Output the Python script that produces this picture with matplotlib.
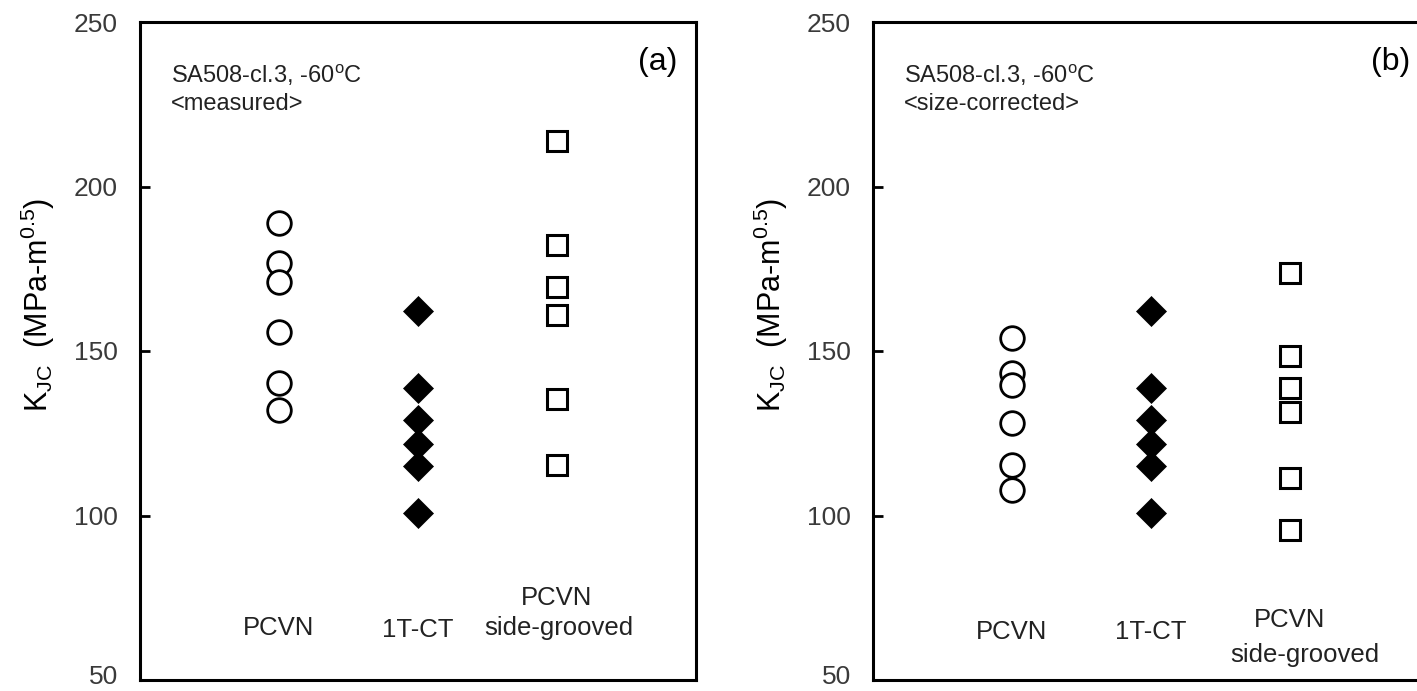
import numpy as np
import matplotlib
matplotlib.use("Agg")
import matplotlib.pyplot as plt
import matplotlib.transforms as mtransforms

plt.rcParams['font.family'] = ['Liberation Sans', 'DejaVu Sans']
plt.rcParams['mathtext.fontset'] = 'custom'
plt.rcParams['mathtext.rm'] = 'Liberation Sans'
plt.rcParams['mathtext.it'] = 'Liberation Sans:italic'

# K_JC values, MPa-m^0.5
groups = ["PCVN", "1T-CT", "PCVN"]
pcvn_measured = [188.9, 176.7, 171.0, 155.8, 140.3, 132.1]
ct_measured = [162.2, 138.7, 128.9, 121.6, 114.9, 100.8]
sg_measured = [213.8, 182.2, 169.5, 160.9, 135.4, 115.3]

pcvn_corrected = [154.0, 143.3, 139.7, 128.1, 115.3, 107.8]
ct_corrected = [162.2, 138.7, 128.9, 121.6, 114.9, 100.8]
sg_corrected = [173.7, 148.5, 138.8, 131.5, 111.4, 95.6]

W, H = 1417, 691
fig = plt.figure(figsize=(W / 100, H / 100), dpi=100)
ax1 = fig.add_axes([140 / W, 11 / H, 556 / W, 658 / H])
# right panel runs off the edge of the picture, as in the original
ax2 = fig.add_axes([873 / W, 11 / H, 556 / W, 658 / H])

panels = [
    (ax1, pcvn_measured, ct_measured, sg_measured, "<measured>", "(a)",
     [0.079, 0.076, 0.125], (3.01, 0.079)),
    (ax2, pcvn_corrected, ct_corrected, sg_corrected, "<size-corrected>", "(b)",
     [0.073, 0.073, 0.091], (3.11, 0.038)),
]

up = mtransforms.ScaledTranslation(0, 5 / 100, fig.dpi_scale_trans)

for ax, pc, ct, sg, sub, tag, ly, sgpos in panels:
    ax.plot([1] * len(pc), pc, 'o', ms=17, mfc='white', mec='black', mew=2, ls='none')
    ax.plot([2] * len(ct), ct, 'D', ms=15, mfc='black', mec='black', mew=0.5, ls='none')
    ax.plot([3] * len(sg), sg, 's', ms=15, mfc='white', mec='black', mew=2.2, ls='none')

    ax.set_xlim(0, 4)
    ax.set_ylim(50, 250)
    ax.set_yticks([50, 100, 150, 200, 250])
    ax.set_xticks([])
    ax.tick_params(axis='y', direction='in', length=7, width=2, pad=16,
                   labelsize=19, labelcolor='#3a3a3a')
    # lowest label sits a little above the bottom spine, as in the original
    lab0 = ax.yaxis.get_major_ticks()[0].label1
    lab0.set_transform(lab0.get_transform() + up)
    for s in ax.spines.values():
        s.set_linewidth(2.2)

    ax.set_ylabel(r"K$_{\rm JC}$  (MPa-m$^{0.5}$)", fontsize=22)
    ax.yaxis.set_label_coords(-0.15, 0.57)

    ax.text(0.055, 0.919, "SA508-cl.3, -60$^{\\rm o}$C", transform=ax.transAxes,
            fontsize=17, color='#222222', va='center', ha='left')
    ax.text(0.055, 0.876, sub, transform=ax.transAxes,
            fontsize=17, color='#222222', va='center', ha='left')
    ax.text(0.966, 0.939, tag, transform=ax.transAxes,
            fontsize=23, va='center', ha='right')

    for i, g in enumerate(groups):
        ax.text(i + 1, ly[i], g, transform=ax.get_xaxis_transform(),
                fontsize=18.5, color='#222222', ha='center', va='center')
    ax.text(sgpos[0], sgpos[1], "side-grooved", transform=ax.get_xaxis_transform(),
            fontsize=18.5, color='#222222', ha='center', va='center')

fig.savefig("out.png", dpi=100)
